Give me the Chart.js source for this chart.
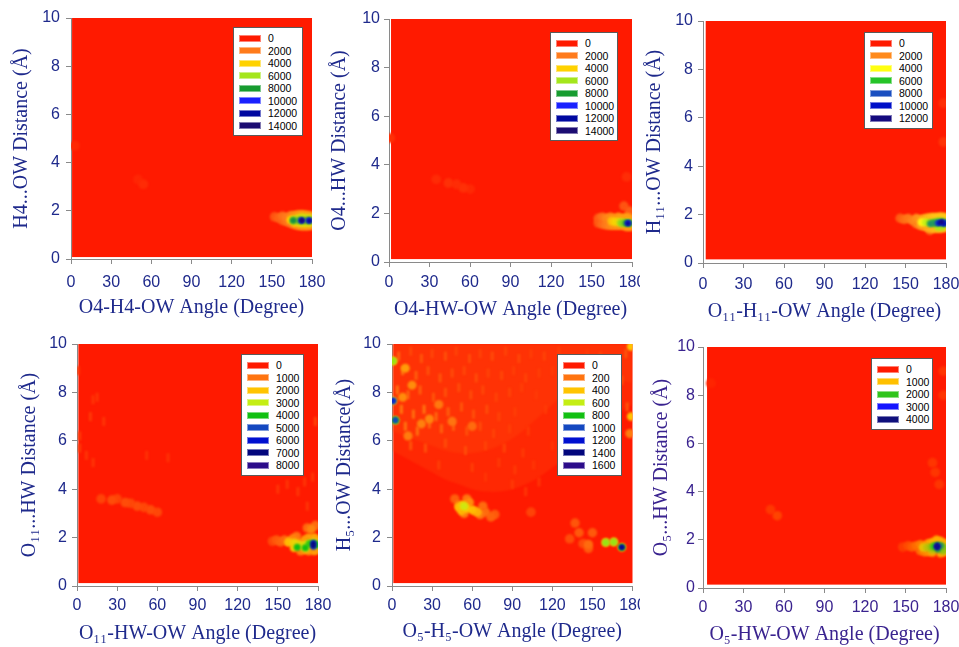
<!DOCTYPE html>
<html><head><meta charset="utf-8">
<script src="https://cdn.jsdelivr.net/npm/chart.js@4.4.1/dist/chart.umd.min.js"></script>
<style>
body{margin:0;background:#fff;}
#root{position:relative;width:959px;height:647px;overflow:hidden;background:#fff;}
canvas{position:absolute;}
.lg{position:absolute;background:#fff;border:1px solid #5a5a5a;box-sizing:border-box;padding:4px 0 3px 0;font:10.5px 'Liberation Sans',Arial,sans-serif;color:#000;}
.lg .row{height:12.5px;display:flex;align-items:center;}
.lg .sw{width:22px;height:7px;margin-left:5px;margin-right:7px;box-sizing:border-box;border:1px solid rgba(255,255,255,0.45);}
</style></head><body><div id="root"></div>
<script>
// ===== data =====
const angleTicks=[0,30,60,90,120,150,180];
const distTicks=[0,2,4,6,8,10];

// panel 1
const p1Levels=[0,2000,4000,6000,8000,10000,12000,14000];
const p1Domain=[0.8,180,0.08,10];
const p1Spots=[[152,1.75,1200],[155,1.7,1500],[158,1.78,1800],[158,1.6,1500],[161,1.72,2000],[161,1.55,1800],[164,1.8,2200],[164,1.48,2000],[167,1.82,2500],[167,1.42,2300],[170,1.85,2600],[170,1.38,2400],[173,1.85,2800],[173,1.36,2600],[176,1.83,2800],[176,1.36,2600],[179,1.8,2800],[179,1.38,2600],
[164,1.62,4000],[167,1.65,4500],[167,1.52,4200],[170,1.7,4800],[170,1.5,4500],[173,1.72,5000],[173,1.48,4800],[176,1.7,5000],[176,1.48,4800],[179,1.68,5000],[179,1.5,4800],
[166,1.6,6500],[170,1.6,6800],[173,1.6,7000],[176,1.6,7000],[179,1.6,7000],
[166,1.6,8200],[171.5,1.6,9000],[177.5,1.6,9000],[172.5,1.6,10500],[178,1.6,10500],[172.5,1.6,13000],[178,1.58,12500],[172.5,1.6,14200],
[3,4.7,300],[50,3.3,250],[54,3.1,350]];

// panel 2
const p2Levels=[0,2000,4000,6000,8000,10000,12000,14000];
const p2Domain=[1.5,180,0.12,10];
const p2Spots=[[155,1.8,1400],[155,1.6,1300],[158,1.85,1800],[158,1.55,1700],[161,1.8,2200],[161,1.52,2000],[164,1.85,2400],[164,1.5,2300],[167,1.8,2600],[167,1.5,2500],[170,1.85,2700],[170,1.5,2600],[173,1.8,2800],[173,1.5,2700],[176,1.85,2800],[176,1.45,2700],[179,1.8,2600],[179,1.45,2600],[178,2.1,1400],[174,2.3,1200],
[165,1.68,3600],[168,1.65,4200],[171,1.65,4800],[174,1.62,5000],[177,1.62,5000],[179,1.6,4800],
[172,1.6,6400],[175,1.6,7000],[178,1.6,7200],[176,1.6,8500],[178,1.6,8800],[177,1.6,10500],[177,1.58,12800],
[35,3.4,350],[44,3.25,450],[50,3.2,400],[55,3.05,450],[60,3.0,300],[176,3.5,400],[1,5.1,450]];

// panel 3
const p3Levels=[0,2000,4000,6000,8000,10000,12000];
const p3Domain=[2,180,0.15,10];
const p3Spots=[[146,1.85,1200],[149,1.8,1500],[152,1.85,1700],[155,1.75,1900],[158,1.85,2100],[158,1.62,1800],[161,1.8,2300],[161,1.55,2200],[164,1.85,2600],[164,1.5,2400],[167,1.88,2800],[167,1.45,2600],[170,1.9,2900],[170,1.42,2700],[173,1.9,3000],[173,1.42,2800],[176,1.92,3000],[176,1.42,2900],[179,1.9,3000],[179,1.45,2900],[168,1.35,1500],
[162,1.68,3800],[165,1.68,4500],[168,1.65,5000],[171,1.68,5200],[174,1.72,5400],[177,1.72,5400],[179,1.65,5200],[174,1.5,4800],[177,1.5,4800],
[168.5,1.62,6800],[171,1.65,6500],[174,1.65,7200],[177,1.65,7500],[179,1.65,7200],
[174,1.65,8500],[176.5,1.68,9000],[179,1.65,8600],[175,1.65,10500],[177,1.7,11000],[178.5,1.62,10500],[176.5,1.68,12000],
[178,5.0,450],[178,6.6,350]];

// panel 4
const p4Levels=[0,1000,2000,3000,4000,5000,6000,7000,8000];
const p4Domain=[1,180,0.12,10];
const p4Spots=[[146,1.85,500],[149,1.9,700],[152,1.82,800],[155,1.9,900],[158,1.82,1100],[161,1.95,1200],[164,1.8,1300],[164,2.05,1000],[167,1.75,1400],[167,1.45,1200],[170,1.9,1500],[170,1.5,1400],[173,2.0,1500],[173,1.45,1400],[175,2.35,1200],[177,2.0,1600],[177,1.45,1500],[179,1.9,1600],[179,1.5,1500],[172,2.4,900],[178,2.5,900],
[158,1.82,1900],[162,1.78,2300],[165,1.72,2400],[168,1.65,2500],[171,1.7,2600],[174,1.75,2700],[177,1.8,2800],[179,1.7,2600],[162,1.58,2200],[171,1.55,2400],
[164.5,1.6,4000],[170.5,1.58,4000],[173.5,1.75,3800],[177,1.75,4200],[179,1.7,4000],
[176.5,1.78,5500],[176.5,1.62,5200],[176.5,1.75,7000],[176.5,1.65,7200],
[18,3.6,450],[26,3.55,550],[30,3.6,450],[36,3.45,550],[40,3.42,500],[45,3.3,550],[50,3.25,500],[55,3.15,550],[60,3.05,500]];
const p4Streaks=[[1,8.9,300],[2,6.2,350],[2,5.7,350],[10,7.0,350],[12,7.7,300],[15,7.8,300],[20,6.8,300],[12,5.1,300],[7,5.4,300],[52,5.4,250],[68,5.3,250],[150,4.0,300],[157,4.2,300],[165,3.9,300],[170,4.3,300],[178,6.8,450],[172,3.3,300],[176,4.5,300]];

// panel 5
const p5Levels=[0,200,400,600,800,1000,1200,1400,1600];
const p5Domain=[1,180,0.12,10];
const p5HazeAngle=[0,10,20,30,40,50,60,70,80,90,100,110,120,130,140,150,160,170,180];
const p5HazeOuter=[5.6,5.3,5.0,4.7,4.4,4.2,4.0,3.9,3.9,4.0,4.2,4.5,4.9,5.3,5.8,6.3,6.8,7.2,7.5];
const p5HazeInner=[6.4,6.2,6.0,5.8,5.6,5.5,5.5,5.6,5.8,6.1,6.5,7.0,7.5,8.0,8.4,8.6,8.6,8.5,8.4];
const p5HazeLevel=100;
const p5Streaks=[[5,9.5,160],[14,9.7,100],[22,9.4,130],[30,9.6,100],[40,9.5,120],[48,9.7,90],[58,9.4,110],[66,9.6,90],[75,9.5,110],[85,9.7,90],[95,9.4,100],[104,9.6,80],[114,9.5,90],[125,9.7,80],[135,9.4,90],[146,9.6,70],[156,9.5,90],[166,9.3,100],[175,9.6,130],
[8,8.9,200],[18,8.7,150],[27,8.9,120],[36,8.6,130],[45,8.8,110],[54,8.9,100],[63,8.6,110],[72,8.8,90],[82,8.7,100],[91,8.9,80],[100,8.6,90],[110,8.8,80],[120,8.9,70],[140,8.7,80],[160,8.8,90],[172,8.5,120],
[4,8.1,200],[12,7.9,170],[21,8.1,150],[31,7.8,130],[40,8.0,120],[50,8.2,110],[59,7.9,110],[68,8.1,100],[78,7.8,90],[88,8.0,90],[97,8.2,80],[108,7.9,70],[130,8.1,70],[152,7.9,80],[170,8.0,110],
[7,7.3,210],[16,7.1,190],[24,7.3,200],[33,7.0,170],[42,7.2,150],[52,7.4,130],[61,7.1,120],[71,7.3,110],[80,7.0,90],[92,7.2,80],[115,7.3,70],[145,7.1,70],[176,7.4,130],
[10,6.6,200],[19,6.4,190],[28,6.7,170],[37,6.5,160],[46,6.6,150],[56,6.4,120],[66,6.6,110],[76,6.3,90],[88,6.5,80],[102,6.4,70],[130,6.6,60],[165,6.5,90],
[14,5.8,130],[25,5.7,120],[40,5.9,110],[55,5.6,110],[70,5.8,90],[84,5.7,90],[98,5.5,70],[120,5.8,60],
[35,5.0,80],[60,4.9,80],[80,5.1,70],[92,4.8,70],[106,5.0,60],[140,4.9,60],[90,4.2,70],[100,3.9,60],[110,4.3,60],[70,4.5,60]];
const p5Spots=[[47,3.6,150],[50,3.35,250],[54,3.0,220],[58,3.45,260],[62,3.1,250],[66,2.95,200],[70,3.05,180],[74,2.85,160],[77,2.95,140],[56,3.6,200],[68,3.3,180],[104,3.05,90],
[50,3.25,380],[53,3.35,420],[56,3.2,400],[60,3.15,380],[64,3.05,340],[52,3.1,360],[54,3.3,560],
[0.8,9.3,400],[0.8,9.3,650],[0.8,7.65,500],[0.8,7.65,1000],[0.8,7.65,1100],[2.5,6.85,450],[2.5,6.85,800],[2.5,6.85,1000],
[160,1.8,350],[160,1.8,650],[166,1.82,350],[166,1.82,650],[172,1.6,400],[172,1.6,800],[172,1.6,1200],[172,1.6,1450],
[147,1.72,180],[147,1.55,140],[137,2.6,130],[140,2.2,140],[150,2.2,140],[133,1.95,110],[143,1.75,110],
[179,7.0,400],[179,9.9,400],[178,6.3,220],[10,9.0,300],[8,7.8,260],[15,8.3,260],[28,6.9,240],[22,6.7,230],[45,6.8,200],[35,7.5,210],[60,6.6,180],[12,6.2,220]];

// panel 6
const p6Levels=[0,1000,2000,3000,4000];
const p6Domain=[3,180,0.14,10];
const p6Spots=[[148,1.7,200],[152,1.75,300],[155,1.7,400],[158,1.75,500],[161,1.8,600],[161,1.55,500],[164,1.75,700],[164,1.5,600],[167,1.85,800],[167,1.5,700],[170,1.9,900],[170,1.48,800],[173,2.0,900],[176,1.95,900],[179,1.85,900],[179,1.5,850],[176,1.45,850],
[163,1.68,1100],[166,1.68,1300],[169,1.7,1500],[172,1.75,1600],[175,1.75,1700],[178,1.7,1600],[178,1.55,1500],[170,1.58,1300],
[171,1.72,2000],[173.5,1.75,2300],[176,1.75,2300],[174,1.6,2200],[173.5,1.72,3000],
[172.5,1.72,3900],[174.5,1.72,3900],[173.5,1.65,3900],[173.5,1.8,3900],
[55,3.0,250],[50,3.25,180],[170,5.2,160],[172,4.8,160],[175,4.3,160],[178,9.0,160],[178,8.0,160],[6,8.5,60]];

// ===== styles / layout =====
const palA=['#ff1a00','#ff7b1c','#ffd200','#a4e61c','#179c30','#1a22ff','#0008a0','#1c0c72'];
const palB=['#ff1a00','#ff8a1c','#ffff10','#26c428','#1a4fc0','#0010c8','#140a7e'];
const palC=['#ff1a00','#ff7410','#ffc400','#c4ee14','#12c012','#1448c0','#0010d0','#02067c','#2c0c8a'];
const palD=['#ff1a00','#ffc000','#30c41c','#1414ff','#10107c'];
const blue='#1f2a8c', purple='#3a238f';

const panels=[
 {canvas:[0,0,325,328],area:[71,18,312,259],yTitleX:22,yTickR:60,xTickY:283,xTitleY:308,text:blue,
  xTitle:'O4-H4-OW Angle (Degree)',yTitle:'H4...OW Distance (Å)',levels:p1Levels,colors:palA,spots:p1Spots,domain:p1Domain,legend:[233,27,70]},
 {canvas:[325,0,315,328],area:[389,19,632,262],yTitleX:340,yTickR:380,xTickY:283,xTitleY:310,text:blue,
  xTitle:'O4-HW-OW Angle (Degree)',yTitle:'O4...HW Distance (Å)',levels:p2Levels,colors:palA,spots:p2Spots,domain:p2Domain,legend:[550,32,68]},
 {canvas:[640,0,319,328],area:[703,21,946,263],yTitleX:655,yTickR:693,xTickY:285,xTitleY:312,text:blue,
  xTitle:'O₁₁-H₁₁-OW Angle (Degree)',yTitle:'H₁₁...OW Distance (Å)',levels:p3Levels,colors:palB,spots:p3Spots,domain:p3Domain,legend:[864,32,69]},
 {canvas:[0,328,332,319],area:[77,344,318,586],yTitleX:30,yTickR:67,xTickY:606,xTitleY:634,text:blue,
  xTitle:'O₁₁-HW-OW Angle (Degree)',yTitle:'O₁₁...HW Distance (Å)',levels:p4Levels,colors:palC,spots:p4Spots,streaks:p4Streaks,domain:p4Domain,legend:[241,354,63]},
 {canvas:[332,328,308,319],area:[392,344,633,586],yTitleX:345,yTickR:381,xTickY:606,xTitleY:632,text:blue,
  xTitle:'O₅-H₅-OW Angle (Degree)',yTitle:'H₅...OW Distance(Å)',levels:p5Levels,colors:palC,spots:p5Spots,streaks:p5Streaks,
  hazes:[p5HazeOuter,p5HazeInner],hazeAngle:p5HazeAngle,hazeLevel:p5HazeLevel,domain:p5Domain,legend:[557,354,65]},
 {canvas:[640,328,319,319],area:[703,347,946,588],yTitleX:662,yTickR:695,xTickY:608,xTitleY:635,text:purple,
  xTitle:'O₅-HW-OW Angle (Degree)',yTitle:'O₅...HW Distance (Å)',levels:p6Levels,colors:palD,spots:p6Spots,domain:p6Domain,legend:[871,358,62]}
];

const tickFont="'Liberation Sans', Arial, sans-serif";
const titleFont="'Liberation Serif', 'Times New Roman', serif";

function hexRgb(h){h=h.replace('#','');return [0,2,4].map(i=>parseInt(h.substr(i,2),16));}
function colorAt(pal,step,v,a){
  const t=Math.max(0,v/step);let i=Math.floor(t),f=t-i;
  if(i>=pal.length-1){i=pal.length-1;f=0;}
  const c0=hexRgb(pal[i]),c1=hexRgb(pal[Math.min(i+1,pal.length-1)]);
  const c=c0.map((x,k)=>Math.round(x+(c1[k]-x)*f));
  return 'rgba('+c[0]+','+c[1]+','+c[2]+','+(a==null?1:a)+')';
}

const bgPlugin={id:'bg',
  beforeDatasetsDraw(chart,args,opts){
    const {ctx,scales:{x,y}}=chart;const d=opts.domain;
    const x0=x.getPixelForValue(d[0]),x1=x.getPixelForValue(d[1]);
    const y0=y.getPixelForValue(d[3]),y1=y.getPixelForValue(d[2]);
    ctx.save();ctx.fillStyle=opts.color;ctx.fillRect(x0,y0,x1-x0,y1-y0);ctx.restore();
    ctx.save();ctx.filter='blur(1px)';
  },
  afterDatasetsDraw(chart){chart.ctx.restore();}
};

const root=document.getElementById('root');
panels.forEach(p=>{
  const [cx,cy,cw,ch]=p.canvas;
  const cv=document.createElement('canvas');cv.width=cw;cv.height=ch;
  cv.style.left=cx+'px';cv.style.top=cy+'px';cv.style.width=cw+'px';cv.style.height=ch+'px';
  root.appendChild(cv);
  const aL=p.area[0]-cx,aT=p.area[1]-cy,aR=p.area[2]-cx,aB=p.area[3]-cy;
  const step=p.levels[1]-p.levels[0],vmax=p.levels[p.levels.length-1];
  const col=v=>colorAt(p.colors,step,v);
  const rad=v=>5-3*Math.min(v/vmax,1);
  const toPts=arr=>arr.map(s=>({x:s[0],y:s[1],v:s[2]})).sort((a,b)=>a.v-b.v);
  const datasets=[{label:'spots',data:toPts(p.spots),order:0,clip:0,showLine:false,pointStyle:'circle',
    pointRadius:c=>rad(c.raw.v),pointHoverRadius:c=>rad(c.raw.v),pointBackgroundColor:c=>col(c.raw.v),pointBorderWidth:0,pointBorderColor:'rgba(0,0,0,0)'}];
  if(p.streaks)datasets.push({label:'streaks',data:toPts(p.streaks),order:1,clip:0,showLine:false,pointStyle:'line',pointRotation:90,
    pointRadius:4.5,pointHoverRadius:4.5,pointBorderWidth:3,pointBorderColor:c=>col(c.raw.v),pointBackgroundColor:c=>col(c.raw.v)});
  if(p.hazes)p.hazes.forEach((h,k)=>datasets.push({type:'line',label:'haze'+k,data:p.hazeAngle.map((a,i)=>({x:a,y:h[i]})),order:2+k,clip:0,
    fill:'end',backgroundColor:colorAt(p.colors,step,p.hazeLevel,0.32),borderColor:'rgba(0,0,0,0)',borderWidth:0,pointRadius:0,tension:0.4}));
  const axisCommon={z:1,grid:{drawOnChartArea:false,drawTicks:true,tickLength:5,color:'#8a8a8a',lineWidth:1},
    border:{display:true,color:'#8a8a8a',width:1}};
  new Chart(cv,{type:'scatter',data:{datasets},
    options:{responsive:false,animation:false,devicePixelRatio:1,events:[],
      layout:{padding:{left:0,top:aT,right:cw-aR,bottom:0}},
      plugins:{legend:{display:false},tooltip:{enabled:false},bg:{domain:p.domain,color:p.colors[0]}},
      scales:{
        x:Object.assign({},axisCommon,{type:'linear',min:0,max:180,
          afterBuildTicks:s=>{s.ticks=angleTicks.map(v=>({value:v}));},
          afterFit:s=>{s.height=ch-aB;s.paddingLeft=0;s.paddingRight=0;},
          ticks:{color:p.text,font:{family:tickFont,size:16},padding:p.xTickY-p.area[3]-5-9.6,maxRotation:0,autoSkip:false},
          title:{display:true,text:p.xTitle,color:p.text,font:{family:titleFont,size:20,lineHeight:1.2},padding:{top:0,bottom:ch-(p.xTitleY-cy)-12}}}),
        y:Object.assign({},axisCommon,{type:'linear',min:0,max:10,
          afterBuildTicks:s=>{s.ticks=distTicks.map(v=>({value:v}));},
          afterFit:s=>{s.width=aL;s.paddingTop=0;s.paddingBottom=0;},
          ticks:{color:p.text,font:{family:tickFont,size:16},padding:p.area[0]-p.yTickR-5,autoSkip:false},
          title:{display:true,text:p.yTitle,color:p.text,font:{family:titleFont,size:20,lineHeight:1.2},padding:{top:p.yTitleX-cx-12,bottom:0}}})
      }},
    plugins:[bgPlugin]});
  // legend
  const lg=document.createElement('div');lg.className='lg';
  lg.style.left=p.legend[0]+'px';lg.style.top=p.legend[1]+'px';lg.style.width=p.legend[2]+'px';
  p.levels.forEach((lv,i)=>{
    const row=document.createElement('div');row.className='row';
    const sw=document.createElement('span');sw.className='sw';sw.style.background=p.colors[i];
    const tx=document.createElement('span');tx.textContent=String(lv);
    row.appendChild(sw);row.appendChild(tx);lg.appendChild(row);
  });
  root.appendChild(lg);
});
</script></body></html>
